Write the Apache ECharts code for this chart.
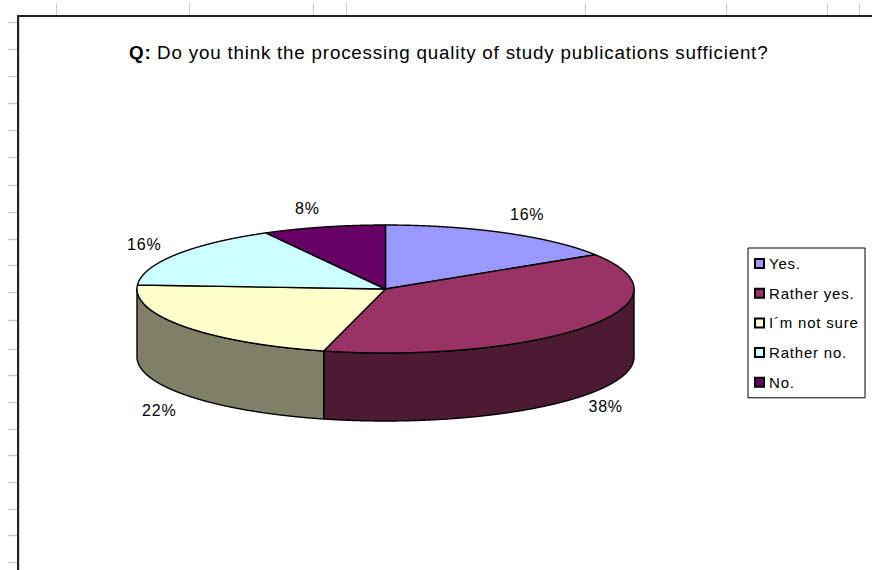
<!DOCTYPE html>
<html>
<head>
<meta charset="utf-8">
<style>
  html, body { margin: 0; padding: 0; background: #fff; }
  #chart { width: 872px; height: 570px; }
  /* The sheet's text runs wide, so every label gets the same tracking */
  #chart text { letter-spacing: 0.8px; }
</style>
<script src="https://cdn.jsdelivr.net/npm/echarts@6/dist/echarts.min.js"></script>
</head>
<body>
<div id="chart"></div>
<script>
const categories = ['Yes.', 'Rather yes.', 'I´m not sure', 'Rather no.', 'No.'];
const percents = [16, 38, 22, 16, 8];
const topColors = ['#9999FF', '#993366', '#FFFFCC', '#CCFFFF', '#660066'];
const wallColors = ['#4D4D80', '#4D1A33', '#808066', '#668080', '#330033'];

// Worksheet gridline stubs showing around the embedded chart
const columnStubs = [56, 189, 313, 346, 585, 726, 827, 859];
const rowStubs = [22, 49, 76, 103, 130, 157, 185, 212, 239, 265, 292, 320, 349, 375, 402, 429, 455, 482, 509, 535, 562];

// Pixel nudges that settle each percentage beside its slice
const labelNudgeX = [4, -11, 5, 0, -7];
const labelNudgeY = [-2, 1, 5, 0, 0];

const rimDepth = 68 / 64; // wall height, in units of the ellipse's vertical radius
const total = percents.reduce((a, b) => a + b, 0);
const TAU = Math.PI * 2;

// Cumulative start/end fraction for each slice, clockwise from twelve o'clock
const spans = [];
percents.reduce((acc, v) => { spans.push([acc / total, (acc + v) / total]); return acc + v; }, 0);

function arc(from, to) {
  const pts = [];
  const steps = Math.max(2, Math.ceil((to - from) * 720));
  for (let i = 0; i <= steps; i++) {
    const a = from + (to - from) * i / steps;
    pts.push([Math.sin(a), Math.cos(a)]);
  }
  return pts;
}

function sliceRenderer(index) {
  return function (params, api) {
    const a0 = api.value(0) * TAU;
    const a1 = api.value(1) * TAU;
    const children = [];
    const edge = { stroke: '#000', lineWidth: 1.4, lineJoin: 'round' };

    // Only the stretch between 3 and 9 o'clock shows a front wall
    const w0 = Math.max(a0, Math.PI / 2);
    const w1 = Math.min(a1, Math.PI * 1.5);
    if (w1 > w0) {
      const rim = arc(w0, w1);
      const lower = rim.slice().reverse().map(p => api.coord([p[0], p[1] - rimDepth]));
      children.push({
        type: 'polygon',
        shape: { points: rim.map(p => api.coord(p)).concat(lower) },
        style: Object.assign({ fill: wallColors[index] }, edge)
      });
    }

    children.push({
      type: 'polygon',
      shape: { points: [api.coord([0, 0])].concat(arc(a0, a1).map(p => api.coord(p))) },
      style: Object.assign({ fill: topColors[index] }, edge)
    });

    const mid = (a0 + a1) / 2;
    const lift = Math.cos(mid) < 0 ? rimDepth : 0;
    const at = api.coord([1.15 * Math.sin(mid), 1.3 * Math.cos(mid) - lift]);
    children.push({
      type: 'text',
      x: at[0] + labelNudgeX[index],
      y: at[1] + labelNudgeY[index],
      style: {
        text: percents[index] + '%',
        fontFamily: 'Liberation Sans',
        fontSize: 16,
        fill: '#000',
        align: 'center',
        verticalAlign: 'middle'
      }
    });
    return { type: 'group', children };
  };
}

const decoration = [];
const stub = '#cccccc';
columnStubs.forEach(x => decoration.push({
  type: 'line', silent: true, shape: { x1: x + 0.5, y1: 3, x2: x + 0.5, y2: 16 }, style: { stroke: stub, lineWidth: 1 }
}));
rowStubs.forEach(y => decoration.push({
  type: 'line', silent: true, shape: { x1: 8, y1: y + 0.5, x2: 18, y2: y + 0.5 }, style: { stroke: stub, lineWidth: 1.5 }
}));
decoration.push(
  { type: 'line', silent: true, shape: { x1: 19.5, y1: 16, x2: 19.5, y2: 570 }, style: { stroke: '#d8d8d8', lineWidth: 1 } },
  { type: 'line', silent: true, shape: { x1: 18, y1: 16, x2: 18, y2: 570 }, style: { stroke: '#222', lineWidth: 2 } },
  { type: 'line', silent: true, shape: { x1: 17, y1: 16, x2: 872, y2: 16 }, style: { stroke: '#222', lineWidth: 2 } }
);

const chart = echarts.init(document.getElementById('chart'), null, { renderer: 'svg' });
chart.setOption({
  animation: false,
  backgroundColor: '#fff',
  title: {
    left: 129,
    top: 43,
    padding: 0,
    text: '{b|Q:}{g| }Do you think the processing quality of study publications sufficient?',
    textStyle: {
      fontFamily: 'Liberation Sans',
      fontSize: 18.8,
      fontWeight: 'normal',
      color: '#000',
      rich: {
        b: { fontFamily: 'Liberation Sans', fontSize: 18.8, fontWeight: 'bold', color: '#000' },
        g: { fontFamily: 'Liberation Sans', fontSize: 18.8, padding: [0, 2, 0, 0] }
      }
    }
  },
  legend: {
    left: 748,
    top: 248,
    orient: 'vertical',
    icon: 'rect',
    itemWidth: 9,
    itemHeight: 9,
    itemGap: 14.7,
    padding: [8, 16, 8, 6],
    backgroundColor: '#fff',
    borderColor: '#000',
    borderWidth: 1,
    borderRadius: 0,
    selectedMode: false,
    data: categories,
    textStyle: { fontFamily: 'Liberation Sans', fontSize: 15, color: '#000', padding: [0, 0, 0, 0] }
  },
  graphic: decoration,
  grid: { left: 137, top: 225, width: 497, height: 128 + 68, containLabel: false },
  xAxis: { type: 'value', min: -1, max: 1, show: false },
  yAxis: { type: 'value', min: -1 - rimDepth, max: 1, show: false },
  series: categories.map((name, i) => ({
    type: 'custom',
    name,
    silent: true,
    clip: false,
    coordinateSystem: 'cartesian2d',
    itemStyle: { color: topColors[i], borderColor: '#000', borderWidth: 1 },
    renderItem: sliceRenderer(i),
    encode: { x: 0, y: 1 },
    data: [spans[i]]
  }))
});
</script>
</body>
</html>
